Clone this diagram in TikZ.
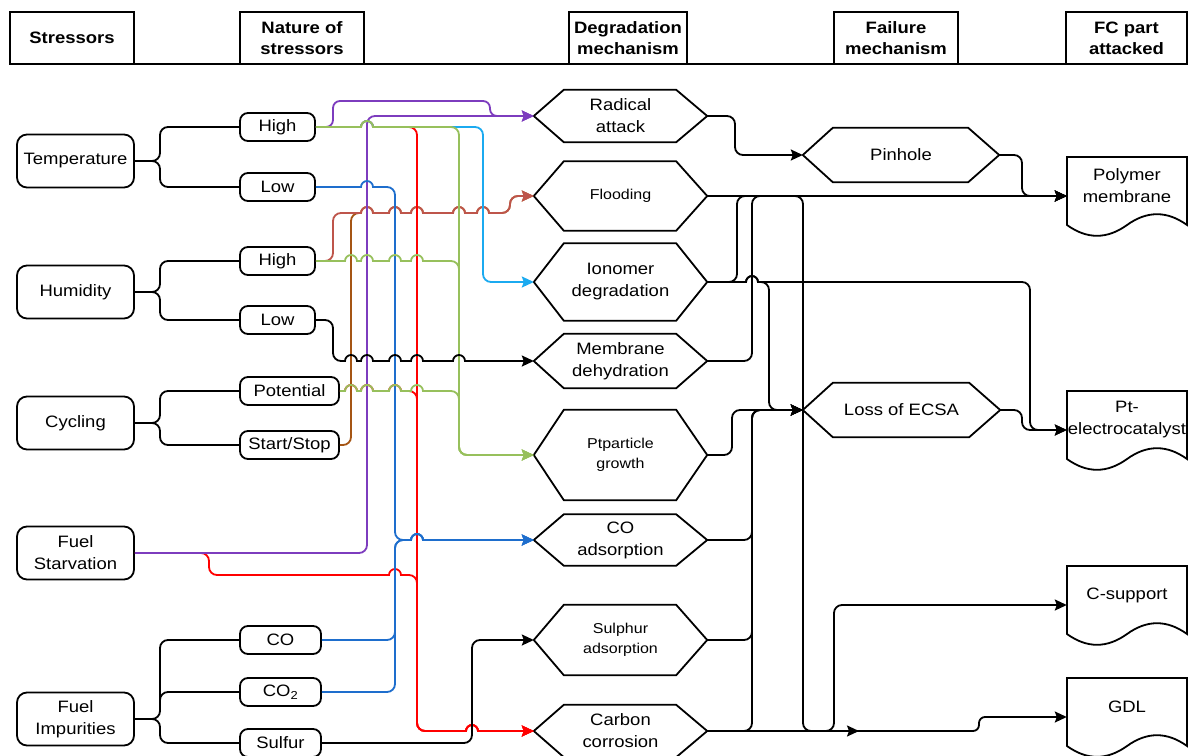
\documentclass[tikz,border=0pt]{standalone}
\usepackage{fontspec}
\setmainfont{Liberation Sans}[FakeStretch=1.12]
\usetikzlibrary{arrows.meta}
\definecolor{cpurple}{RGB}{125,60,190}
\definecolor{cgreen}{RGB}{151,192,92}
\definecolor{ccyan}{RGB}{27,170,240}
\definecolor{cblue}{RGB}{30,110,205}
\definecolor{cred}{RGB}{255,0,0}
\definecolor{cflood}{RGB}{190,85,75}
\definecolor{cbrown}{RGB}{165,85,20}
\tikzset{
 txtbase/.style={font=\fontsize{16.5}{22}\selectfont, align=center, inner sep=0pt},
 smalltxt/.style={font=\fontsize{14.3}{20}\selectfont},
 hdr/.style={txtbase, draw, line width=1.8pt, font=\bfseries\fontsize{16.5}{21}\selectfont, minimum height=52pt},
 stress/.style={txtbase, draw, line width=1.8pt, rounded corners=10pt, minimum width=117pt, minimum height=53pt},
 nat/.style={txtbase, draw, line width=1.8pt, rounded corners=8pt, minimum height=28pt},
 hexbox/.style={txtbase, draw=none},
 docbox/.style={draw=none, inner sep=0pt, minimum width=120pt, minimum height=78pt},
 shapeline/.style={draw, line width=1.8pt, line join=miter},
 link/.style={line width=1.8pt},
 conn/.style={line width=1.8pt, -{Stealth[length=12pt,width=11pt,inset=2pt]}},
}
\newcommand\hexnode[6][]{%
  \node[hexbox,minimum width=#4,minimum height=#5,#1] (#2) at #3 {#6};
  \draw[shapeline] (#2.west) -- ([xshift=30pt]#2.north west) -- ([xshift=-31pt]#2.north east) -- (#2.east) -- ([xshift=-31pt]#2.south east) -- ([xshift=30pt]#2.south west) -- cycle;
}
\newcommand\docnode[4]{%
  \node[docbox] (#1) at (#2+60,#3+39) {};
  \node[txtbase] (#1t) at (#2+60,#3+29) {#4};
  \draw[shapeline] (#2,#3) -- (#2+120,#3) -- (#2+120,#3+68) .. controls (#2+100,#3+53.6) and (#2+80,#3+53.6) .. (#2+60,#3+68) .. controls (#2+40,#3+82.4) and (#2+20,#3+82.4) .. (#2,#3+68) -- cycle;
}
\newcommand\hp[2]{-- ({#1-6},#2) arc[start angle=180,end angle=0,radius=6pt]}
\begin{document}
\begin{tikzpicture}[x=1pt,y=-1pt]
\useasboundingbox (0,0) rectangle (1188,755);
\fill[white] (0,0) rectangle (1188,755);
% headers
\draw[line width=1.8pt] (10,64) -- (1188,64);
\node[hdr,minimum width=124pt] (hS) at (72,38) {Stressors};
\node[hdr,minimum width=124pt] (hN) at (302,38) {Nature of\\stressors};
\node[hdr,minimum width=118pt] (hD) at (628,38) {Degradation\\mechanism};
\node[hdr,minimum width=124pt] (hF) at (896,38) {Failure\\mechanism};
\node[hdr,minimum width=121pt] (hP) at (1126.5,38) {FC part\\attacked};
% stressors
\node[stress] (temp) at (75.5,161) {Temperature};
\node[stress] (hum) at (75.5,292) {Humidity};
\node[stress] (cyc) at (75.5,423) {Cycling};
\node[stress] (fs) at (75.5,553) {Fuel\\Starvation};
\node[stress] (fi) at (75.5,719) {Fuel\\Impurities};
% nature
\node[nat,minimum width=75pt] (tH) at (277.5,127) {High};
\node[nat,minimum width=75pt] (tL) at (277.5,187) {Low};
\node[nat,minimum width=75pt] (hH) at (277.5,261) {High};
\node[nat,minimum width=75pt] (hL) at (277.5,320) {Low};
\node[nat,minimum width=99pt] (pot) at (289.5,391) {Potential};
\node[nat,minimum width=99pt] (ss) at (289.5,445) {Start/Stop};
\node[nat,minimum width=81pt] (co) at (280.5,640) {CO};
\node[nat,minimum width=81pt] (co2) at (280.5,692) {CO\textsubscript{2}};
\node[nat,minimum width=81pt] (sul) at (280.5,743) {Sulfur};
% degradation
\hexnode{ra}{(620.5,116)}{173pt}{52pt}{Radical\\attack}
\hexnode[smalltxt]{fl}{(620.5,196)}{173pt}{69pt}{Flooding}
\hexnode{io}{(620.5,282)}{173pt}{77pt}{Ionomer\\degradation}
\hexnode{md}{(620.5,361)}{173pt}{54pt}{Membrane\\dehydration}
\hexnode[smalltxt]{pg}{(620.5,455)}{173pt}{90pt}{Ptparticle\\growth}
\hexnode{ca}{(620.5,540)}{173pt}{51pt}{CO\\adsorption}
\hexnode[smalltxt]{sa}{(620.5,640)}{173pt}{70pt}{Sulphur\\adsorption}
\hexnode{cc}{(620.5,731)}{173pt}{52pt}{Carbon\\corrosion}
% failure
\hexnode{ph}{(901,155)}{196pt}{54pt}{Pinhole}
\hexnode{le}{(901.5,410)}{197pt}{54pt}{Loss of ECSA}
% parts
\docnode{pm}{1067}{157}{Polymer\\membrane}
\docnode{pt}{1067}{391}{Pt-\\electrocatalyst}
\docnode{cs}{1067}{566}{C-support}
\docnode{gdl}{1067}{678}{GDL}
\coordinate (fa) at (859,731);
% braces
\draw[link,rounded corners=8pt] (temp.east) -- (160,161) |- (tH.west) (temp.east) -- (160,161) |- (tL.west);
\draw[link,rounded corners=8pt] (hum.east) -- (160,292) |- (hH.west) (hum.east) -- (160,292) |- (hL.west);
\draw[link,rounded corners=8pt] (cyc.east) -- (160,423) |- (pot.west) (cyc.east) -- (160,423) |- (ss.west);
\draw[link,rounded corners=8pt] (fi.east) -- (160,719) |- (co.west) (fi.east) -- (160,719) |- (co2.west) (fi.east) -- (160,719) |- (sul.west);
% coloured connectors
\draw[conn,cbrown] (ss.east) [rounded corners=8pt] -- (351,445) -- (351,213) [sharp corners] \hp{367}{213} \hp{395}{213} \hp{417}{213} \hp{459}{213} \hp{483}{213} [rounded corners=8pt] -- (510,213) -- (510,196) -- (fl.west);
\draw[conn,cflood] (hH.east) [rounded corners=8pt] -- (333,261) -- (333,213) [sharp corners] \hp{367}{213} \hp{395}{213} \hp{417}{213} \hp{459}{213} \hp{483}{213} [rounded corners=8pt] -- (510,213) -- (510,196) -- (fl.west);
\draw[conn,cpurple] (tH.east) [rounded corners=7pt] -- (333,127) -- (333,101) -- (490,101) -- (490,116) -- (ra.west);
\draw[conn,cred] (tH.east) \hp{367}{127} [rounded corners=8pt] -- (417,127) -- (417,731) [sharp corners] \hp{472}{731} -- (cc.west);
\draw[conn,cred] (pot.east) \hp{351}{391} \hp{367}{391} \hp{395}{391} [rounded corners=8pt] -- (417,391) -- (417,731) [sharp corners] \hp{472}{731} -- (cc.west);
\draw[conn,cred] (fs.east) [rounded corners=8pt] -- (209,553) -- (209,575) [sharp corners] \hp{395}{575} [rounded corners=8pt] -- (417,575) -- (417,731) [sharp corners] \hp{472}{731} -- (cc.west);
\draw[conn,cpurple] (fs.east) [rounded corners=8pt] -- (367,553) -- (367,116) -- (ra.west);
\draw[conn,cblue] (tL.east) \hp{367}{187} [rounded corners=8pt] -- (395,187) -- (395,540) [sharp corners] \hp{417}{540} -- (ca.west);
\draw[conn,cblue] (co.east) [rounded corners=8pt] -- (395,640) -- (395,540) [sharp corners] \hp{417}{540} -- (ca.west);
\draw[conn,cblue] (co2.east) [rounded corners=8pt] -- (395,692) -- (395,540) [sharp corners] \hp{417}{540} -- (ca.west);
\draw[conn,ccyan] (tH.east) \hp{367}{127} [rounded corners=8pt] -- (483,127) -- (483,282) -- (io.west);
\draw[conn,cgreen] (tH.east) \hp{367}{127} [rounded corners=8pt] -- (459,127) -- (459,455) -- (pg.west);
\draw[conn,cgreen] (hH.east) \hp{351}{261} \hp{367}{261} \hp{395}{261} \hp{417}{261} [rounded corners=8pt] -- (459,261) -- (459,455) -- (pg.west);
\draw[conn,cgreen] (pot.east) \hp{351}{391} \hp{367}{391} \hp{395}{391} \hp{417}{391} [rounded corners=8pt] -- (459,391) -- (459,455) -- (pg.west);
\draw[conn] (hL.east) [rounded corners=8pt] -- (333,320) -- (333,361) [sharp corners] \hp{351}{361} \hp{367}{361} \hp{395}{361} \hp{417}{361} \hp{459}{361} -- (md.west);
\draw[conn] (sul.east) [rounded corners=8pt] -- (472,743) -- (472,640) -- (sa.west);
% right side
\draw[conn] (ra.east) [rounded corners=8pt] -- (735,116) -- (735,155) -- (ph.west);
\draw[conn] (ph.east) [rounded corners=8pt] -- (1022,155) -- (1022,196) -- (pm.west);
\draw[conn] (fl.east) -- (pm.west);
\draw[conn] (io.east) [rounded corners=8pt] -- (737,282) -- (737,196) -- (pm.west);
\draw[conn] (md.east) [rounded corners=8pt] -- (752,361) -- (752,196) -- (pm.west);
\draw[conn] (io.east) \hp{752}{282} [rounded corners=8pt] -- (769,282) -- (769,410) -- (le.west);
\draw[conn] (io.east) \hp{752}{282} [rounded corners=8pt] -- (1030,282) -- (1030,430) -- (pt.west);
\draw[conn] (fl.east) [rounded corners=8pt] -- (803,196) -- (803,731) -- (fa);
\draw[conn] (pg.east) [rounded corners=8pt] -- (732,455) -- (732,410) -- (le.west);
\draw[conn] (ca.east) [rounded corners=8pt] -- (752,540) -- (752,410) -- (le.west);
\draw[conn] (sa.east) [rounded corners=8pt] -- (752,640) -- (752,410) -- (le.west);
\draw[conn] (cc.east) [rounded corners=8pt] -- (752,731) -- (752,410) -- (le.west);
\draw[conn] (cc.east) [rounded corners=8pt] -- (834,731) -- (834,605) -- (cs.west);
\draw[conn] (cc.east) [rounded corners=6pt] -- (979,731) -- (979,717) -- (gdl.west);
\draw[conn] (le.east) [rounded corners=8pt] -- (1022,410) -- (1022,430) -- (pt.west);
\end{tikzpicture}
\end{document}
